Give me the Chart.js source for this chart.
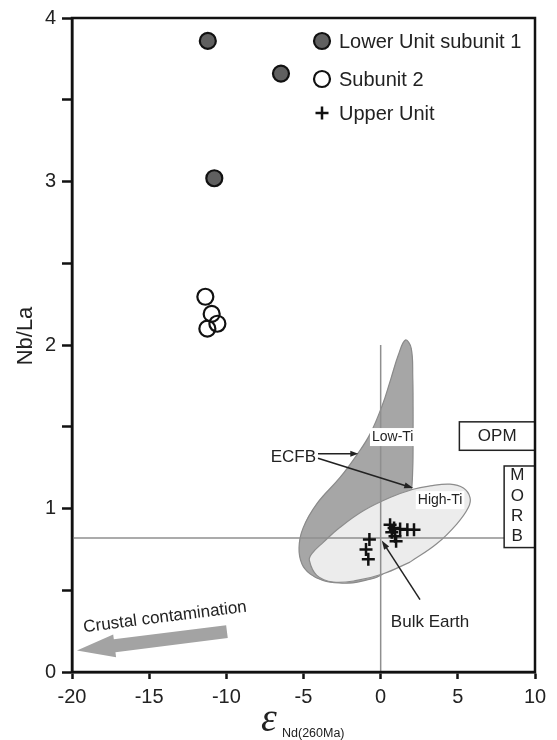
<!DOCTYPE html>
<html>
<head>
<meta charset="utf-8">
<title>Nb/La vs eNd</title>
<script src="https://cdn.jsdelivr.net/npm/chart.js@4.4.1/dist/chart.umd.min.js"></script>
<style>
    html, body { margin: 0; padding: 0; background: #fff; }
    #wrap { width: 557px; height: 740px; }
</style>
</head>
<body>
<div id="wrap"><canvas id="nbChart" width="557" height="740"></canvas></div>
<script>
const FONT = '"Liberation Sans", Arial, sans-serif';

// Samples: eNd(260Ma) vs Nb/La
const lowerUnitSub1 = [
    { x: -11.2, y: 3.86 },
    { x: -6.46, y: 3.66 },
    { x: -10.78, y: 3.02 }
];
const subunit2 = [
    { x: -11.36, y: 2.295 },
    { x: -10.95, y: 2.19 },
    { x: -10.58, y: 2.13 },
    { x: -11.23, y: 2.10 }
];
const upperUnit = [
    { x: -0.73, y: 0.81 },
    { x: -0.95, y: 0.75 },
    { x: -0.80, y: 0.69 },
    { x: 0.61, y: 0.90 },
    { x: 0.72, y: 0.855 },
    { x: 0.93, y: 0.83 },
    { x: 1.00, y: 0.80 },
    { x: 0.87, y: 0.88 },
    { x: 1.26, y: 0.875 },
    { x: 1.73, y: 0.87 },
    { x: 2.16, y: 0.87 }
];

// ECFB fields (outline vertices)
const lowTiField = [
    { x: 2.10, y: 1.45 }, { x: 2.08, y: 1.25 }, { x: 1.95, y: 1.08 },
    { x: 1.30, y: 0.82 }, { x: 0.40, y: 0.62 }, { x: -1.50, y: 0.55 },
    { x: -2.70, y: 0.545 }, { x: -3.74, y: 0.56 }, { x: -4.58, y: 0.60 },
    { x: -5.10, y: 0.66 }, { x: -5.29, y: 0.76 }, { x: -5.03, y: 0.88 },
    { x: -4.13, y: 1.03 }, { x: -2.63, y: 1.19 }, { x: -1.53, y: 1.33 },
    { x: -0.69, y: 1.455 }, { x: 0.10, y: 1.63 }, { x: 0.65, y: 1.79 },
    { x: 1.15, y: 1.94 }, { x: 1.60, y: 2.03 }, { x: 1.98, y: 1.98 },
    { x: 2.08, y: 1.80 }, { x: 2.10, y: 1.62 }, { x: 2.10, y: 1.45 }
];
const highTiField = [
    { x: 1.90, y: 0.672 }, { x: 3.63, y: 0.784 }, { x: 4.93, y: 0.905 },
    { x: 5.68, y: 1.006 }, { x: 5.79, y: 1.067 }, { x: 5.36, y: 1.125 },
    { x: 4.49, y: 1.149 }, { x: 3.20, y: 1.138 }, { x: 2.11, y: 1.118 },
    { x: 0.61, y: 1.067 }, { x: -1.12, y: 0.986 }, { x: -2.63, y: 0.885 },
    { x: -3.72, y: 0.793 }, { x: -4.47, y: 0.723 }, { x: -4.62, y: 0.682 },
    { x: -4.14, y: 0.591 }, { x: -3.07, y: 0.55 }, { x: -1.55, y: 0.56 },
    { x: 0.17, y: 0.601 }, { x: 1.90, y: 0.672 }
];

// Bulk Earth reference lines
const bulkEarthV = [{ x: 0, y: 0 }, { x: 0, y: 2 }];
const bulkEarthH = [{ x: -20, y: 0.82 }, { x: 8, y: 0.82 }];

const xRange = [-20, 10];
const yRange = [0, 4];

const legendItems = [
    { label: 'Lower Unit subunit 1', style: 'circle', fill: '#606060' },
    { label: 'Subunit 2', style: 'circle', fill: '#ffffff' },
    { label: 'Upper Unit', style: 'cross', fill: '#111' }
];

function drawArrow(ctx, x0, y0, x1, y1, head, half) {
    const a = Math.atan2(y1 - y0, x1 - x0);
    const c = Math.cos(a), s = Math.sin(a);
    ctx.beginPath();
    ctx.moveTo(x0, y0);
    ctx.lineTo(x1 - c * head * 0.7, y1 - s * head * 0.7);
    ctx.stroke();
    ctx.beginPath();
    ctx.moveTo(x1, y1);
    ctx.lineTo(x1 - head * c + half * s, y1 - head * s - half * c);
    ctx.lineTo(x1 - head * c - half * s, y1 - head * s + half * c);
    ctx.closePath();
    ctx.fill();
}

function boxedLabel(ctx, text, x, y) {
    const w = ctx.measureText(text).width;
    ctx.fillStyle = '#fff';
    ctx.fillRect(x - w / 2 - 2, y - 9, w + 4, 18);
    ctx.fillStyle = '#222';
    ctx.fillText(text, x, y);
}

const annotations = {
    id: 'annotations',
    afterDatasetsDraw(chart) {
        const { ctx, chartArea } = chart;
        const X = v => chart.scales.x.getPixelForValue(v);
        const Y = v => chart.scales.y.getPixelForValue(v);
        ctx.save();

        // OPM and MORB boxes
        ctx.lineWidth = 1.5;
        ctx.strokeStyle = '#222';
        ctx.fillStyle = '#fff';
        [[5.1, 10, 1.356, 1.53], [8.0, 10, 0.761, 1.26]].forEach(b => {
            const x0 = X(b[0]), x1 = X(b[1]), y0 = Y(b[3]), y1 = Y(b[2]);
            ctx.fillRect(x0, y0, x1 - x0, y1 - y0);
            ctx.strokeRect(x0, y0, x1 - x0, y1 - y0);
        });
        ctx.fillStyle = '#222';
        ctx.textAlign = 'center';
        ctx.textBaseline = 'middle';
        ctx.font = '17px ' + FONT;
        ctx.fillText('OPM', X(7.55), Y(1.443));
        ['M', 'O', 'R', 'B'].forEach((ch, i) => {
            ctx.fillText(ch, X(8.85), Y(1.2) + i * 20.3);
        });

        // field labels
        ctx.font = '14px ' + FONT;
        boxedLabel(ctx, 'Low-Ti', X(0.78), Y(1.437));
        boxedLabel(ctx, 'High-Ti', X(3.85), Y(1.051));

        // ECFB pointers
        ctx.font = '17px ' + FONT;
        ctx.textAlign = 'right';
        ctx.fillText('ECFB', X(-4.19), Y(1.315));
        ctx.strokeStyle = '#222';
        ctx.fillStyle = '#222';
        ctx.lineWidth = 1.5;
        drawArrow(ctx, X(-4.06), Y(1.335), X(-1.45), Y(1.335), 8, 3);
        drawArrow(ctx, X(-4.06), Y(1.307), X(2.11), Y(1.125), 9, 3);

        // Bulk Earth pointer
        ctx.textAlign = 'center';
        ctx.fillText('Bulk Earth', X(3.2), Y(0.306));
        drawArrow(ctx, X(2.55), Y(0.443), X(0.07), Y(0.804), 9, 3);

        // crustal contamination arrow
        const tx = X(-9.96), ty = Y(0.247), hx = X(-19.68), hy = Y(0.131);
        const a = Math.atan2(hy - ty, hx - tx);
        const c = Math.cos(a), s = Math.sin(a);
        const sw = 6.5, hw = 11.5, hl = 38;
        const bx = hx - c * hl, by = hy - s * hl;
        ctx.fillStyle = '#a3a3a3';
        ctx.beginPath();
        ctx.moveTo(tx - s * sw, ty + c * sw);
        ctx.lineTo(bx - s * sw, by + c * sw);
        ctx.lineTo(bx - s * hw, by + c * hw);
        ctx.lineTo(hx, hy);
        ctx.lineTo(bx + s * hw, by - c * hw);
        ctx.lineTo(bx + s * sw, by - c * sw);
        ctx.lineTo(tx + s * sw, ty - c * sw);
        ctx.closePath();
        ctx.fill();
        ctx.save();
        ctx.translate(X(-13.97), Y(0.335));
        ctx.rotate(a + Math.PI);
        ctx.fillStyle = '#222';
        ctx.font = '17px ' + FONT;
        ctx.fillText('Crustal contamination', 0, 0);
        ctx.restore();

        // legend
        ctx.textAlign = 'left';
        ctx.font = '20px ' + FONT;
        const lx = chartArea.left + 250;
        [23, 61, 95].forEach((dy, i) => {
            const it = legendItems[i];
            const ly = chartArea.top + dy;
            const bw = it.style === 'cross' ? 2.5 : 2.2;
            ctx.fillStyle = it.fill;
            ctx.strokeStyle = '#111';
            ctx.lineWidth = bw;
            Chart.helpers.drawPoint(ctx, {
                pointStyle: it.style,
                radius: it.style === 'cross' ? 6.5 : 8,
                rotation: 0,
                borderWidth: bw
            }, lx, ly);
            ctx.fillStyle = '#222';
            ctx.fillText(it.label, lx + 17, ly + 1);
        });

        ctx.restore();
    },
    afterDraw(chart) {
        const { ctx, chartArea } = chart;
        ctx.save();
        // plot frame
        ctx.strokeStyle = '#111';
        ctx.lineWidth = 2.5;
        ctx.strokeRect(chartArea.left, chartArea.top, chartArea.right - chartArea.left, chartArea.bottom - chartArea.top);
        // y axis title
        ctx.fillStyle = '#222';
        ctx.save();
        ctx.translate(26, 336);
        ctx.rotate(-Math.PI / 2);
        ctx.textAlign = 'center';
        ctx.textBaseline = 'middle';
        ctx.font = '22px ' + FONT;
        ctx.fillText('Nb/La', 0, 0);
        ctx.restore();
        // x axis title: epsilon Nd(260Ma)
        ctx.textBaseline = 'alphabetic';
        ctx.textAlign = 'left';
        ctx.font = 'italic 40px "Liberation Serif", serif';
        ctx.fillText('\u03B5', 261, 731);
        ctx.font = '12.5px ' + FONT;
        ctx.fillText('Nd(260Ma)', 282, 737);
        ctx.restore();
    }
};

const ctx = document.getElementById('nbChart').getContext('2d');
const chart = new Chart(ctx, {
    type: 'scatter',
    data: {
        datasets: [
            {
                label: 'Low-Ti',
                data: lowTiField,
                showLine: true,
                tension: 0.4,
                fill: 'shape',
                backgroundColor: '#a6a6a6',
                borderColor: '#8a8a8a',
                borderWidth: 1.2,
                pointRadius: 0,
                order: 10
            },
            {
                label: 'High-Ti',
                data: highTiField,
                showLine: true,
                tension: 0.4,
                fill: 'shape',
                backgroundColor: '#ececec',
                borderColor: '#8c8c8c',
                borderWidth: 1.2,
                pointRadius: 0,
                order: 9
            },
            {
                label: 'Bulk Earth eNd',
                data: bulkEarthV,
                showLine: true,
                borderColor: '#8f8f8f',
                borderWidth: 1.5,
                pointRadius: 0,
                order: 5
            },
            {
                label: 'Bulk Earth Nb/La',
                data: bulkEarthH,
                showLine: true,
                borderColor: '#8f8f8f',
                borderWidth: 1.5,
                pointRadius: 0,
                order: 5
            },
            {
                label: 'Upper Unit',
                data: upperUnit,
                pointStyle: 'cross',
                pointRadius: 6.5,
                borderColor: '#111',
                borderWidth: 2.5,
                order: 3
            },
            {
                label: 'Subunit 2',
                data: subunit2,
                pointStyle: 'circle',
                pointRadius: 8,
                backgroundColor: 'rgba(0,0,0,0)',
                borderColor: '#111',
                borderWidth: 2.2,
                order: 2
            },
            {
                label: 'Lower Unit subunit 1',
                data: lowerUnitSub1,
                pointStyle: 'circle',
                pointRadius: 8,
                backgroundColor: '#606060',
                borderColor: '#111',
                borderWidth: 2.2,
                order: 1
            }
        ]
    },
    options: {
        responsive: false,
        animation: false,
        devicePixelRatio: 1,
        layout: { padding: { top: 15, right: 22, left: 0, bottom: 0 } },
        plugins: {
            legend: { display: false },
            tooltip: { enabled: false }
        },
        scales: {
            x: {
                type: 'linear',
                min: xRange[0],
                max: xRange[1],
                afterFit: s => { s.height = 68; },
                ticks: { stepSize: 5, color: '#222', padding: 6, font: { family: FONT, size: 20 } },
                grid: { drawOnChartArea: false, tickLength: 7, tickWidth: 2.5, tickColor: '#111' },
                border: { color: '#111', width: 2.5 }
            },
            y: {
                type: 'linear',
                min: yRange[0],
                max: yRange[1],
                afterFit: s => { s.width = 72; },
                ticks: {
                    stepSize: 0.5,
                    color: '#222',
                    padding: 6,
                    font: { family: FONT, size: 20 },
                    callback: v => Number.isInteger(v) ? v : ''
                },
                grid: { drawOnChartArea: false, tickLength: 10, tickWidth: 2.5, tickColor: '#111' },
                border: { color: '#111', width: 2.5 }
            }
        }
    },
    plugins: [annotations]
});
</script>
</body>
</html>
